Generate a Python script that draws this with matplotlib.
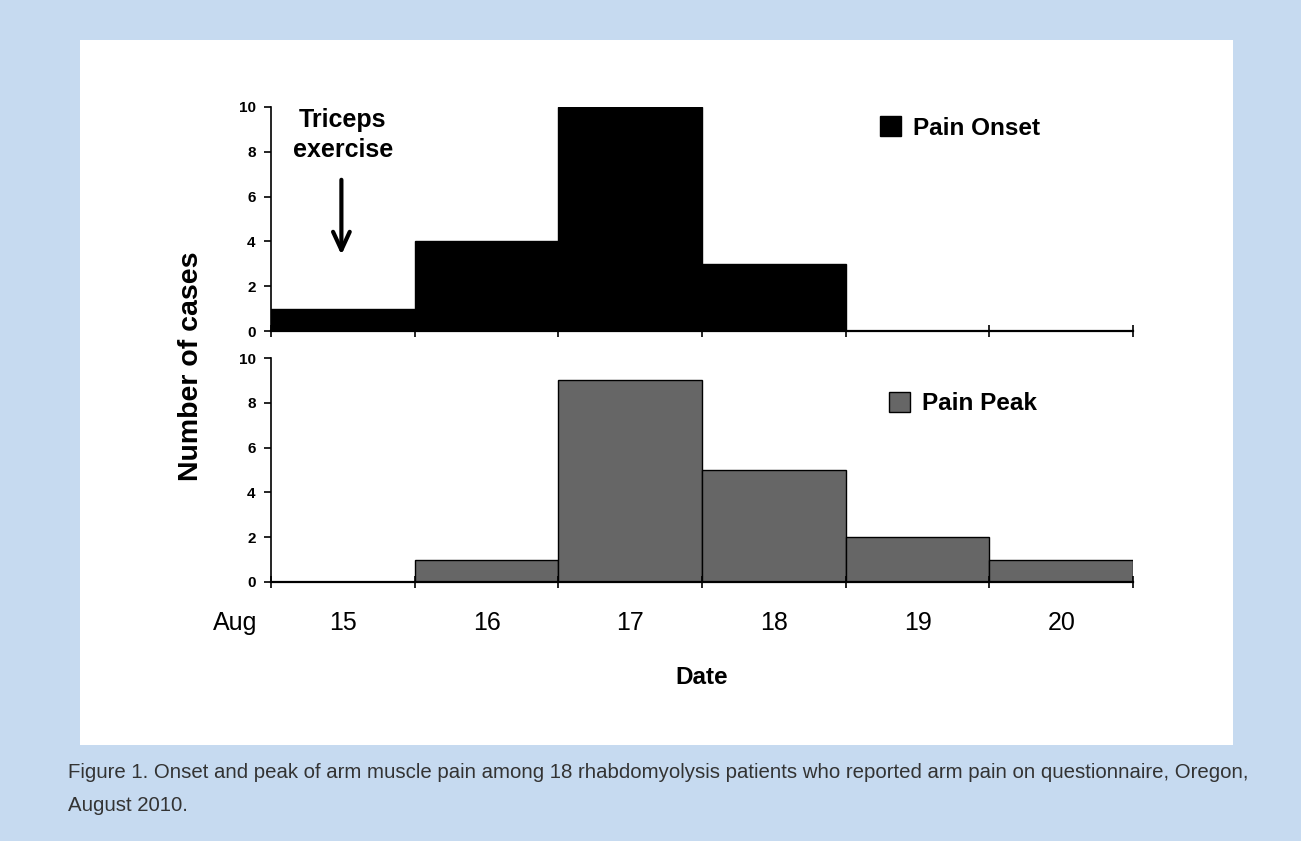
import matplotlib
matplotlib.use("Agg")
from matplotlib import pyplot as plt
from matplotlib.patches import Rectangle

days = ["15", "16", "17", "18", "19", "20"]
onset = [1, 4, 10, 3, 0, 0]
peak = [0, 1, 9, 5, 2, 1]
yticks = [0, 2, 4, 6, 8, 10]

caption = ("Figure 1. Onset and peak of arm muscle pain among 18 rhabdomyolysis patients "
           "who reported arm pain on questionnaire, Oregon,\nAugust 2010.")

plt.rcParams['font.family'] = ['Liberation Sans', 'DejaVu Sans']

fig = plt.figure(figsize=(13.01, 8.41), dpi=100)
fig.patch.set_facecolor('#c6daf0')
panel = Rectangle((0.0615, 0.1142), 0.8862, 0.8382, transform=fig.transFigure,
                  facecolor='white', edgecolor='none', zorder=-10)
fig.add_artist(panel)

ax1 = fig.add_axes([0.2083, 0.6064, 0.6626, 0.2664])
ax2 = fig.add_axes([0.2083, 0.3080, 0.6626, 0.2663])

x = list(range(len(days)))
ax1.bar(x, onset, width=1, align='edge', color='black', edgecolor='black', lw=1, label='Pain Onset')
ax2.bar(x, peak, width=1, align='edge', color='#666666', edgecolor='black', lw=1, label='Pain Peak')

for ax in (ax1, ax2):
    ax.set_xlim(0, len(days))
    ax.set_ylim(0, 10)
    ax.set_facecolor('none')
    ax.spines['top'].set_visible(False)
    ax.spines['right'].set_visible(False)
    ax.spines['left'].set_linewidth(1.2)
    ax.spines['bottom'].set_linewidth(1.6)
    ax.set_yticks(yticks)
    ax.set_yticklabels([str(v) for v in yticks], fontsize=11, fontweight='bold')
    ax.tick_params(axis='y', direction='out', length=5, width=1.2, pad=6)
    ax.set_xticks(range(len(days) + 1))
    ax.set_xticklabels([])
    ax.tick_params(axis='x', which='major', direction='inout', length=8, width=1.2)

ax2.set_xticks([i + 0.5 for i in x], minor=True)
ax2.set_xticklabels(days, minor=True, fontsize=18)
ax2.tick_params(axis='x', which='minor', length=0, pad=21)
ax2.text(-0.25, -0.183, 'Aug', transform=ax2.get_xaxis_transform(), fontsize=18,
         ha='center', va='center')
ax2.set_xlabel('Date', fontsize=17.5, fontweight='bold', labelpad=22)

fig.text(0.147, 0.565, 'Number of cases', rotation=90, fontsize=20.5, fontweight='bold',
         ha='center', va='center')

ax1.text(0.5, 8.75, 'Triceps\nexercise', fontsize=18, fontweight='bold', ha='center',
         va='center', linespacing=1.28)
ax1.annotate('', xy=(0.49, 3.4), xytext=(0.49, 6.75),
             arrowprops=dict(arrowstyle='->,head_length=1.3,head_width=0.6', lw=3, color='black',
                             shrinkA=0, shrinkB=0))

ax1.legend(loc='center left', bbox_to_anchor=(0.7065, 0.906), frameon=False,
           prop=dict(size=17.5, weight='bold'), handlelength=0.85, handleheight=0.85,
           handletextpad=0.5, borderpad=0, borderaxespad=0)
ax2.legend(loc='center left', bbox_to_anchor=(0.7169, 0.795), frameon=False,
           prop=dict(size=17.5, weight='bold'), handlelength=0.85, handleheight=0.85,
           handletextpad=0.5, borderpad=0, borderaxespad=0)

fig.text(0.052, 0.0618, caption, fontsize=14.7, color='#333333', va='center', ha='left',
         linespacing=1.95)

fig.savefig('out.png', dpi=100, facecolor=fig.get_facecolor())
